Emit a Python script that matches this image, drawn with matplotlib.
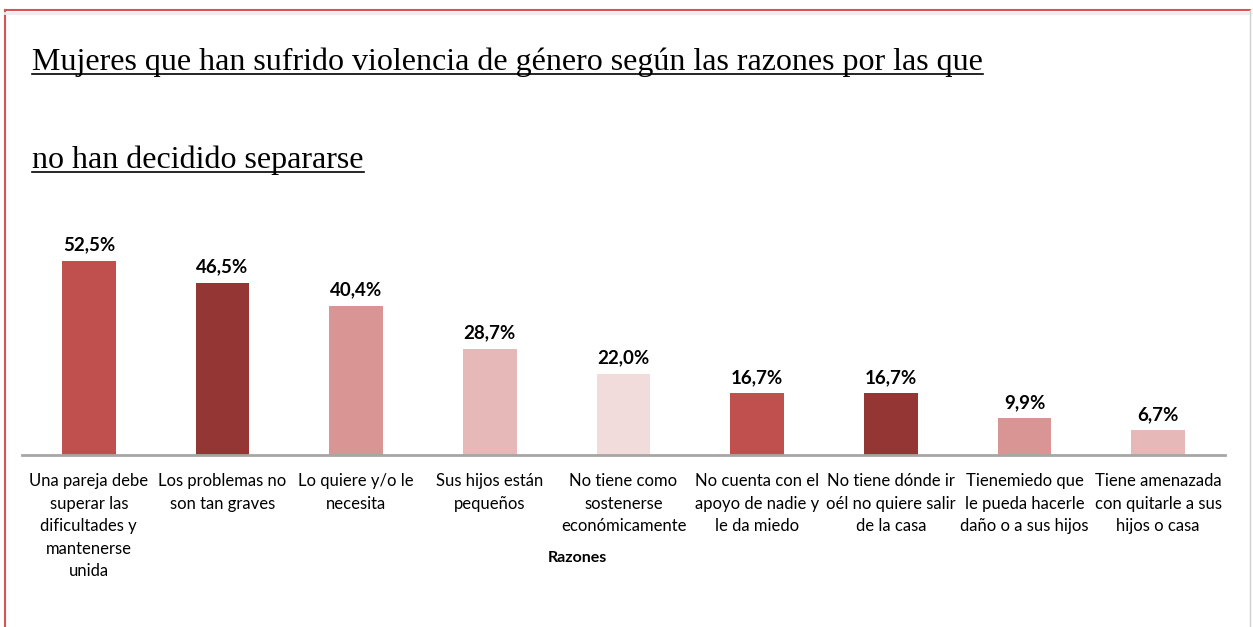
import matplotlib.pyplot as plt
from matplotlib.lines import Line2D
import numpy as np

# Data
razones = ['Una pareja debe\nsuperar las\ndificultades y\nmantenerse\nunida',
           'Los problemas no\nson tan graves',
           'Lo quiere y/o le\nnecesita',
           'Sus hijos están\npequeños',
           'No tiene como\nsostenerse\neconómicamente',
           'No cuenta con el\napoyo de nadie y\nle da miedo',
           'No tiene dónde ir\noél no quiere salir\nde la casa',
           'Tienemiedo que\nle pueda hacerle\ndaño o a sus hijos',
           'Tiene amenazada\ncon quitarle a sus\nhijos o casa']
porcentajes = [52.5, 46.5, 40.4, 28.7, 22.0, 16.7, 16.7, 9.9, 6.7]
colores = ['#C0504D', '#943634', '#D99594', '#E6B9B8', '#F2DCDB',
           '#C0504D', '#943634', '#D99594', '#E6B9B8']
titulo = ['Mujeres que han sufrido violencia de género según las razones por las que',
          'no han decidido separarse']

W, H = 1253, 627
fig = plt.figure(figsize=(W / 100, H / 100), dpi=100)
fig.patch.set_facecolor('white')

# Frame around the picture
fig.add_artist(Line2D([5 / W, 5 / W], [0, 1 - 10 / H], color='#D9534F', lw=1.5))
fig.add_artist(Line2D([5 / W, 1250 / W], [1 - 10 / H, 1 - 10 / H], color='#D9534F', lw=1.5))
fig.add_artist(Line2D([5 / W, 1250 / W], [1 - 12.5 / H, 1 - 12.5 / H], color='#EDEDED', lw=2))
fig.add_artist(Line2D([1250 / W, 1250 / W], [0, 1 - 10 / H], color='#D0D0D0', lw=1))

# Title (underlined)
for t, yb in zip(titulo, [70, 168]):
    fig.text(32 / W, 1 - yb / H, t, family='Liberation Serif', fontsize=23,
             va='baseline', ha='left', color='black')
fig.canvas.draw()
r = fig.canvas.get_renderer()
for t in fig.texts:
    bb = t.get_window_extent(r)
    y0 = t.get_position()[1] - 4 / H
    fig.add_artist(Line2D([bb.x0 / W, bb.x1 / W], [y0, y0], color='black', lw=1.2))

# Bars
ax = fig.add_axes([22 / W, 1 - 455 / H, 1203 / W, 222 / H])
x = np.arange(len(porcentajes))
ax.bar(x, porcentajes, width=0.4, color=colores, zorder=2)
ax.set_xlim(-0.5, len(porcentajes) - 0.5)
ax.set_ylim(0, 60)
for xi, v in zip(x, porcentajes):
    ax.text(xi, v + 2.0, f'{v:.1f}%'.replace('.', ','), ha='center', va='bottom',
            fontsize=13.5, fontweight='bold', family='Lato')

for s in ['top', 'right', 'left']:
    ax.spines[s].set_visible(False)
ax.spines['bottom'].set_color('#A6A6A6')
ax.spines['bottom'].set_linewidth(2)
ax.set_yticks([])
ax.set_xticks(x)
ax.set_xticklabels(razones, fontsize=12, family='Lato', linespacing=1.5)
ax.tick_params(axis='x', length=0, pad=13)
ax.set_xlabel('Razones', fontsize=11.5, fontweight='bold', family='Lato')
ax.xaxis.set_label_coords((577 - 22) / 1203, -(555 - 455) / 222 + 0.02)

fig.savefig('out.png', dpi=100)
plt.close(fig)
